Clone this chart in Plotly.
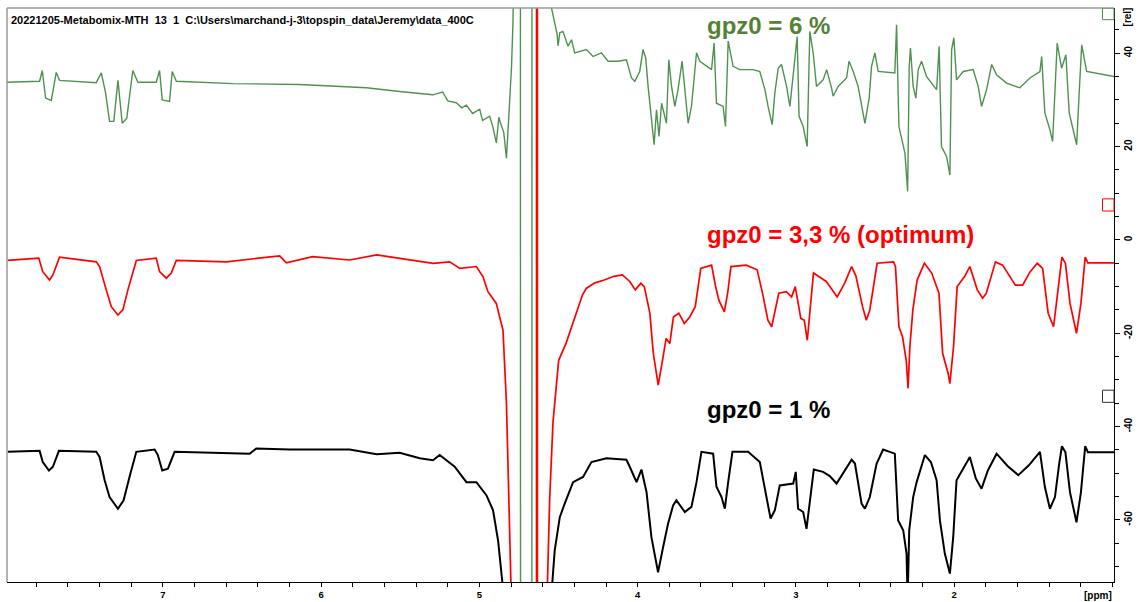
import plotly.graph_objects as go

# ---------------- data (ppm, relative intensity) ----------------
# off-scale values (+/-300) represent the clipped water signal excursions
green_ppm = [7.988, 7.779, 7.762, 7.741, 7.705, 7.674, 7.653, 7.421, 7.389, 7.362, 7.337, 7.310,
             7.284, 7.257, 7.228, 7.190, 7.158, 7.042, 7.021, 7.004, 6.958, 6.941, 6.915, 6.558,
             6.136, 5.927, 5.714, 5.504, 5.295, 5.232, 5.200, 5.146, 5.111, 5.082, 5.043, 4.998,
             4.980, 4.935, 4.916, 4.893, 4.877, 4.868, 4.846, 4.829, 4.812, 4.797, 4.788, 4.770,
             4.742, 4.739, 4.669, 4.667, 4.552, 4.545, 4.509,
             4.503, 4.492, 4.472, 4.440, 4.418, 4.398, 4.324, 4.282, 4.229, 4.187, 4.124, 4.071,
             4.039, 4.018, 3.987, 3.966, 3.949, 3.934, 3.913, 3.896, 3.881, 3.865, 3.849, 3.835,
             3.818, 3.803, 3.786, 3.765, 3.745, 3.719, 3.702, 3.681, 3.660, 3.628, 3.607, 3.533,
             3.517, 3.502, 3.460, 3.445, 3.428, 3.397, 3.354, 3.270, 3.228, 3.196, 3.176, 3.150,
             3.133, 3.112, 3.091, 3.059, 3.038, 3.017, 2.992, 2.980, 2.954, 2.929, 2.912, 2.891,
             2.870, 2.828, 2.806, 2.775, 2.765, 2.733, 2.680, 2.664, 2.638, 2.607, 2.585, 2.564,
             2.537, 2.522, 2.501, 2.480, 2.375, 2.364, 2.349, 2.332, 2.311, 2.294, 2.284, 2.276,
             2.259, 2.242, 2.227, 2.206, 2.174, 2.111, 2.095, 2.080, 2.048, 2.027, 2.016, 2.002,
             1.985, 1.943, 1.880, 1.848, 1.827, 1.795, 1.763, 1.732, 1.669, 1.585, 1.521, 1.458,
             1.447, 1.427, 1.395, 1.378, 1.363, 1.349, 1.321, 1.294, 1.273, 1.247, 1.226, 1.210,
             1.194, 1.163, 0.985]
green_rel = [33.8, 34.0, 36.3, 30.4, 29.9, 35.9, 34.2, 33.7, 35.8, 31.5, 25.4, 25.4,
             34.2, 25.0, 26.1, 36.3, 33.8, 33.8, 36.3, 30.0, 29.7, 36.1, 34.0, 33.5,
             33.3, 32.9, 32.6, 31.8, 31.1, 31.7, 29.8, 29.4, 28.3, 28.9, 27.1, 28.0,
             25.6, 26.5, 24.4, 20.8, 26.3, 25.2, 23.0, 17.5, 26.6, 37.0, 46.6, 80.0,
             300, -300, -300, 300, 300, 49.8, 44.1,
             41.6, 44.4, 44.7, 41.5, 42.9, 40.1, 40.8, 39.3, 40.1, 38.3, 38.3, 38.6,
             34.7, 34.0, 36.1, 40.8, 39.0, 32.9, 25.0, 20.4, 27.9, 22.2, 29.3, 27.2,
             25.0, 38.6, 32.9, 28.6, 32.2, 38.3, 32.9, 25.0, 28.6, 40.1, 38.3, 36.5,
             42.2, 29.3, 28.6, 24.3, 42.6, 37.2, 36.5, 36.5, 36.1, 32.2, 28.6, 24.7,
             31.5, 36.8, 37.6, 32.9, 28.6, 35.8, 43.6, 26.5, 24.3, 20.0, 44.7, 40.1,
             32.9, 34.3, 36.5, 32.6, 30.8, 32.9, 34.7, 38.3, 36.1, 32.9, 28.6, 25.0,
             30.4, 37.2, 40.1, 36.1, 35.8, 46.1, 24.3, 21.5, 18.6, 10.4, 37.2, 41.1,
             32.9, 30.4, 36.5, 38.3, 35.0, 32.2, 41.5, 20.0, 17.9, 13.9, 40.8, 43.3,
             34.3, 36.1, 36.5, 32.9, 28.6, 32.2, 37.6, 35.4, 33.6, 32.6, 34.7, 36.1,
             39.3, 27.2, 23.6, 21.1, 33.6, 42.2, 36.8, 39.7, 27.2, 23.6, 20.4, 31.5,
             41.8, 36.1, 35.0]

red_ppm = [7.980, 7.784, 7.759, 7.716, 7.695, 7.653, 7.421, 7.400, 7.358, 7.326, 7.284, 7.253,
           7.221, 7.168, 7.042, 7.021, 6.978, 6.947, 6.915, 6.599, 6.262, 6.220, 6.054, 5.820,
           5.649, 5.293, 5.188, 5.124, 5.019, 4.977, 4.946, 4.893, 4.872, 4.851, 4.829, 4.808,
           4.798, 4.793, 4.6390, 4.6385, 4.6340, 4.6335, 4.578, 4.573, 4.556, 4.535, 4.521, 4.499,
           4.452, 4.394, 4.349, 4.325, 4.270, 4.211, 4.150, 4.096, 4.050, 4.015, 3.980, 3.958,
           3.923, 3.901,
           3.870, 3.843, 3.820, 3.797, 3.774, 3.740, 3.705, 3.671, 3.636, 3.601, 3.533, 3.509,
           3.487, 3.452, 3.430, 3.411, 3.314, 3.245, 3.211, 3.177, 3.153, 3.108, 3.061, 3.027,
           3.004, 2.969, 2.947, 2.928, 2.912, 2.889, 2.808, 2.739, 2.691, 2.648, 2.621, 2.579,
           2.555, 2.533,
           2.487, 2.383, 2.371, 2.349, 2.326, 2.303, 2.291, 2.280, 2.261, 2.234, 2.188, 2.142,
           2.096, 2.073, 2.038, 2.027, 2.004, 1.981, 1.935, 1.901, 1.854, 1.820, 1.797, 1.771,
           1.739, 1.694, 1.649, 1.613, 1.567, 1.522, 1.475, 1.441, 1.406, 1.372, 1.349, 1.319,
           1.297, 1.268, 1.227, 1.199, 1.172, 1.155, 0.985]
red_rel = [-4.4, -3.9, -6.8, -8.6, -7.5, -3.7, -4.7, -5.7, -10.7, -14.3, -16.1, -15.0,
           -10.7, -4.4, -3.9, -6.8, -8.2, -7.1, -4.4, -4.7, -3.4, -4.9, -3.6, -4.3,
           -3.2, -5.0, -4.7, -6.1, -5.7, -7.9, -11.1, -13.6, -16.5, -19.3, -35.0, -63.7,
           -77.3, -300, -300, 300, 300, -300, -300, -77.3, -55.6, -39.1, -34.3, -25.8,
           -22.1, -16.5, -11.8, -10.4, -9.2, -8.6, -7.8, -7.5, -8.9, -10.7, -9.3, -10.0,
           -15.7, -24.3,
           -31.1, -25.8, -21.1, -22.2, -16.5, -15.7, -17.9, -16.5, -14.3, -6.1, -5.4, -9.7,
           -12.9, -15.4, -11.1, -5.7, -5.4, -6.4, -11.4, -17.2, -18.6, -11.4, -11.1, -12.2,
           -10.0, -16.8, -17.2, -21.5, -15.0, -7.1, -8.9, -12.2, -9.2, -5.7, -7.7, -14.3,
           -17.2, -15.0,
           -5.0, -4.7, -5.7, -18.6, -20.8, -25.8, -31.8, -22.9, -15.0, -8.6, -5.0, -7.1,
           -11.4, -24.3, -28.6, -30.8, -22.9, -10.0, -7.9, -5.7, -10.7, -12.5, -11.4, -8.6,
           -4.7, -5.4, -7.9, -9.7, -9.7, -6.9, -5.0, -6.1, -15.7, -18.6, -12.2, -3.7,
           -5.0, -13.6, -20.0, -13.6, -3.7, -4.9, -4.9]

black_ppm = [7.980, 7.779, 7.759, 7.720, 7.695, 7.657, 7.421, 7.400, 7.368, 7.337, 7.284, 7.248,
             7.211, 7.168, 7.052, 7.032, 7.004, 6.968, 6.926, 6.452, 6.410, 6.199, 5.820, 5.649,
             5.504, 5.377, 5.293, 5.251, 5.156, 5.082, 5.019, 4.956, 4.914, 4.882, 4.855, 4.850,
             4.840, 4.549, 4.543, 4.539, 4.524, 4.492, 4.461, 4.408, 4.345, 4.292, 4.197, 4.071,
             4.050, 4.007, 3.976, 3.944, 3.913, 3.871, 3.839, 3.808, 3.776, 3.755, 3.702, 3.660,
             3.628, 3.597, 3.523, 3.502, 3.470, 3.449, 3.428, 3.401, 3.302, 3.228, 3.186, 3.160,
             3.133, 3.102, 3.017, 3.001, 2.986, 2.954, 2.933, 2.912, 2.887, 2.828, 2.786, 2.743,
             2.697, 2.648,
             2.627, 2.585, 2.564, 2.533, 2.490, 2.449, 2.375, 2.354, 2.322, 2.301, 2.294, 2.284,
             2.259, 2.237, 2.185, 2.147, 2.111, 2.090, 2.059, 2.027, 2.006, 1.985, 1.901, 1.863,
             1.827, 1.787, 1.732, 1.661,
             1.595, 1.528, 1.458, 1.427, 1.395, 1.363, 1.336, 1.319, 1.297, 1.268, 1.227, 1.199,
             1.172, 1.155, 0.985]
black_rel = [-45.4, -45.2, -47.6, -49.4, -48.6, -45.2, -45.4, -46.5, -51.5, -55.1, -57.6, -55.8,
             -50.8, -45.4, -44.9, -46.1, -49.4, -49.0, -45.4, -45.8, -44.7, -44.9, -44.9, -45.9,
             -45.6, -46.8, -47.2, -46.1, -48.6, -51.9, -51.9, -54.7, -57.9, -64.4, -73.3, -81.5,
             -300, -300, -81.5, -73.3, -66.5, -59.4, -56.5, -51.9, -50.8, -47.6, -46.8, -47.1,
             -48.6, -51.9, -49.2, -54.0, -63.7, -71.2, -65.8, -60.8, -56.9, -55.8, -58.3, -57.2,
             -51.9, -45.4, -45.8, -52.9, -55.1, -57.6, -51.9, -45.4, -45.4, -47.6, -55.1, -59.7,
             -57.9, -52.6, -52.2, -49.7, -57.6, -58.3, -61.9, -55.8, -49.2, -49.7, -50.6, -52.2,
             -49.8, -47.1,
             -47.9, -56.5, -57.6, -55.1, -47.9, -44.9, -45.8, -60.1, -62.2, -67.2, -77.3, -62.2,
             -55.1, -51.9, -46.1, -47.6, -51.5, -60.1, -67.2, -71.5, -63.7, -51.5, -46.5, -51.1,
             -53.3, -49.4, -45.8, -48.5,
             -50.4, -48.3, -45.4, -52.9, -57.6, -55.1, -47.9, -44.2, -45.5, -54.1, -60.5, -54.1,
             -44.2, -45.5, -45.5]

x_ticks = [7, 6, 5, 4, 3, 2]
y_ticks = [40, 20, 0, -20, -40, -60]
title_text = "20221205-Metabomix-MTH\u00a0\u00a013\u00a0\u00a01\u00a0\u00a0C:\\Users\\marchand-j-3\\topspin_data\\Jeremy\\data_400C"
labels = ["gpz0 = 6 %", "gpz0 = 3,3 % (optimum)", "gpz0 = 1 %"]
label_pos_ppm = [3.576, 3.572, 3.576]
label_pos_rel = [45.9, 1.2, -36.4]
marker_rel = [(49.7, 47.2), (8.8, 6.2), (-32.2, -34.8)]

GREEN = "#4f9150"
GREEN_LABEL = "#548235"
RED = "#ff0000"
BLACK = "#000000"
FONT = "Liberation Sans, Arial, sans-serif"

fig = go.Figure()
fig.add_trace(go.Scatter(x=green_ppm, y=green_rel, mode="lines",
                         line=dict(color=GREEN, width=1.4), hoverinfo="skip"))
fig.add_trace(go.Scatter(x=red_ppm, y=red_rel, mode="lines",
                         line=dict(color=RED, width=1.7), hoverinfo="skip"))
fig.add_trace(go.Scatter(x=black_ppm, y=black_rel, mode="lines",
                         line=dict(color=BLACK, width=2.0), hoverinfo="skip"))

ann = []
ann.append(dict(text=title_text, xref="paper", yref="paper", x=0.002, y=0.993,
                xanchor="left", yanchor="top", showarrow=False,
                font=dict(family=FONT, size=11, color="black", weight="bold")))
for t, xp, yp, c in zip(labels, label_pos_ppm, label_pos_rel, [GREEN_LABEL, RED, BLACK]):
    ann.append(dict(text=t, x=xp, y=yp, xref="x", yref="y", xanchor="left", yanchor="middle",
                    showarrow=False, font=dict(family=FONT, size=24, color=c, weight="bold")))
ann.append(dict(text="[ppm]", xref="paper", yref="paper", x=1.0, y=-0.024,
                xanchor="right", yanchor="middle", showarrow=False,
                font=dict(family=FONT, size=10, color="black", weight="bold")))
ann.append(dict(text="[rel]", xref="paper", yref="paper", x=1.0125, y=0.985,
                xanchor="center", yanchor="middle", textangle=-90, showarrow=False,
                font=dict(family=FONT, size=10, color="black", weight="bold")))

shapes = [
    dict(type="line", xref="paper", yref="paper", x0=0, x1=1, y0=1, y1=1,
         line=dict(color="#9a9a9a", width=1.5)),
    dict(type="line", xref="paper", yref="paper", x0=0, x1=0, y0=0, y1=1,
         line=dict(color="#9a9a9a", width=1.5)),
]
for (y0, y1), c in zip(marker_rel, [GREEN, RED, "#333333"]):
    shapes.append(dict(type="rect", xref="x domain", yref="y", x0=0.9896, x1=1.0, y0=y1, y1=y0,
                       line=dict(color=c, width=1), fillcolor="rgba(0,0,0,0)"))

fig.update_layout(
    width=1140, height=602,
    margin=dict(l=7, r=26, t=8, b=20, autoexpand=False),
    paper_bgcolor="white", plot_bgcolor="white",
    showlegend=False,
    annotations=ann, shapes=shapes,
    xaxis=dict(range=[7.985, 0.99], tickmode="array", tickvals=x_ticks,
               ticktext=[str(v) for v in x_ticks], automargin=False,
               showgrid=False, zeroline=False, showline=True, linecolor="black", linewidth=1,
               ticks="outside", ticklen=4, tickcolor="black", ticklabelstandoff=0,
               tickfont=dict(family=FONT, size=9.5, color="black", weight="bold"),
               minor=dict(dtick=0.2, tick0=0, ticks="outside", ticklen=4, tickcolor="black")),
    yaxis=dict(range=[-73.3, 49.7], side="right", tickmode="array", tickvals=y_ticks,
               ticktext=[str(v) for v in y_ticks], tickangle=-90, automargin=False,
               showgrid=False, zeroline=False, showline=True, linecolor="black", linewidth=1,
               ticks="outside", ticklen=5, tickcolor="black",
               tickfont=dict(family=FONT, size=10, color="black", weight="bold"),
               minor=dict(dtick=5, tick0=0, ticks="outside", ticklen=4, tickcolor="black")),
)

fig.write_html("out.html")
